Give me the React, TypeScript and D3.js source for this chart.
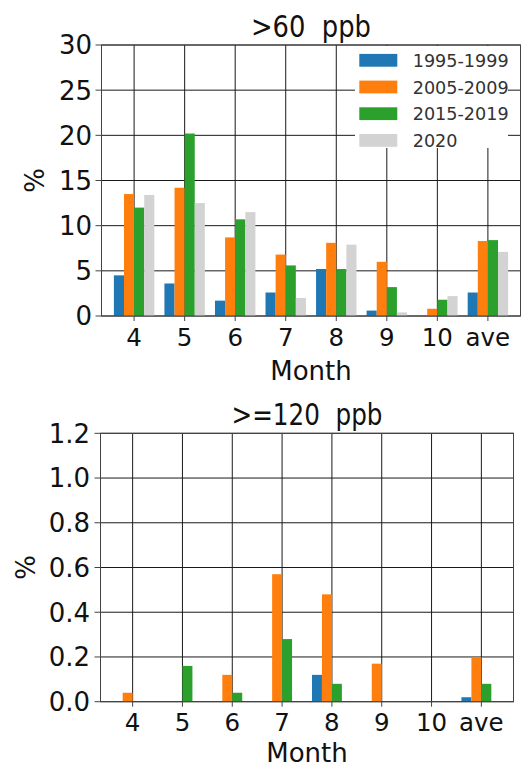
import React from "react";
import * as d3 from "d3";

const months = ["4", "5", "6", "7", "8", "9", "10", "ave"];
const periods = ["1995-1999", "2005-2009", "2015-2019", "2020"];
const periodColors = ["#1f77b4", "#ff7f0e", "#2ca02c", "#d3d3d3"];

// >60 ppb, % of hours
const over60_1995 = [4.5, 3.6, 1.7, 2.6, 5.2, 0.6, 0, 2.6];
const over60_2005 = [13.5, 14.2, 8.7, 6.8, 8.1, 6.0, 0.8, 8.3];
const over60_2015 = [12.0, 20.2, 10.7, 5.6, 5.2, 3.2, 1.8, 8.4];
const over60_2020 = [13.4, 12.5, 11.5, 2.0, 7.9, 0.4, 2.2, 7.1];

// >=120 ppb, % of hours
const over120_1995 = [0, 0, 0, 0, 0.12, 0, 0, 0.02];
const over120_2005 = [0.04, 0, 0.12, 0.57, 0.48, 0.17, 0, 0.2];
const over120_2015 = [0, 0.16, 0.04, 0.28, 0.08, 0, 0, 0.08];
const over120_2020 = [0, 0, 0, 0, 0, 0, 0, 0];

const ticks60 = [0, 5, 10, 15, 20, 25, 30];
const ticks120 = [0, 0.2, 0.4, 0.6, 0.8, 1.0, 1.2];

const FONT = "DejaVu Sans";

function Panel(props) {
  const { title, titleLen, series, yMax, yTicks, fmt, left, right, top, bottom, pctX, tickLabelEnd, monthY, showLegend } = props;

  const x = d3.scalePoint().domain(months).range([left, right]).padding(0.645);
  const step = x.step();
  const xs = d3.scaleBand().domain(periods).range([-step * 0.4, step * 0.4]);
  const y = d3.scaleLinear().domain([0, yMax]).range([bottom, top]);
  const midX = (left + right) / 2;

  return (
    <g>
      {/* grid */}
      {yTicks.map((t) => (
        <line key={"gy" + t} x1={left} x2={right} y1={y(t)} y2={y(t)} stroke="#1a1a1a" strokeWidth={1} />
      ))}
      {months.map((m) => (
        <line key={"gx" + m} x1={x(m)} x2={x(m)} y1={top} y2={bottom} stroke="#1a1a1a" strokeWidth={1} />
      ))}

      {/* bars */}
      {series.map((vals, si) =>
        vals.map((v, i) => (
          <rect
            key={si + "-" + i}
            x={x(months[i]) + xs(periods[si])}
            y={y(v)}
            width={xs.bandwidth()}
            height={bottom - y(v)}
            fill={periodColors[si]}
          />
        ))
      )}

      {showLegend && (
        <g>
          <rect x={355} y={46} width={153} height={102} fill="white" />
          {periods.map((p, i) => {
            const cy = 60.3 + i * 26.7;
            return (
              <g key={p}>
                <rect x={359.3} y={cy - 6.4} width={38} height={12.8} fill={periodColors[i]} />
                <text x={412.7} y={cy + 6.5} fontFamily={FONT} fontSize={17.6} fill="#333">
                  {p}
                </text>
              </g>
            );
          })}
        </g>
      )}

      {/* spines */}
      <rect x={left} y={top} width={right - left} height={bottom - top} fill="none" stroke="#444" strokeWidth={1} />

      {/* y ticks */}
      {yTicks.map((t) => (
        <g key={"ty" + t}>
          <line x1={left - 6} x2={left} y1={y(t)} y2={y(t)} stroke="#444" />
          <text x={tickLabelEnd} y={y(t)} dy="0.36em" textAnchor="end" fontFamily={FONT} fontSize={26} fill="#111">
            {fmt(t)}
          </text>
        </g>
      ))}

      {/* x ticks */}
      {months.map((m) => (
        <g key={"tx" + m}>
          <line x1={x(m)} x2={x(m)} y1={bottom} y2={bottom + 5} stroke="#444" />
          <text x={x(m)} y={bottom + 29.5} textAnchor="middle" fontFamily={FONT} fontSize={24.5} fill="#111">
            {m}
          </text>
        </g>
      ))}

      <text x={midX} y={monthY} textAnchor="middle" fontFamily={FONT} fontSize={26} fill="#111">
        Month
      </text>
      <text
        transform={`translate(${pctX},${(top + bottom) / 2}) rotate(-90)`}
        textAnchor="middle"
        dy="0.36em"
        fontFamily={FONT}
        fontSize={26}
        fill="#111"
      >
        %
      </text>
      <text
        x={midX}
        y={top - 8.5}
        textAnchor="middle"
        fontFamily={FONT}
        fontSize={31}
        fill="#111"
        textLength={titleLen}
        lengthAdjust="spacingAndGlyphs"
        style={{ whiteSpace: "pre" }}
      >
        {title}
      </text>
    </g>
  );
}

export default function App() {
  return (
    <svg width={521} height={767} style={{ position: "absolute", left: 0, top: 0, background: "white" }}>
      <rect width={521} height={767} fill="white" />
      <Panel
        title={">60  ppb"}
        titleLen={120}
        series={[over60_1995, over60_2005, over60_2015, over60_2020]}
        yMax={30}
        yTicks={ticks60}
        fmt={(t) => d3.format("d")(t)}
        left={101.5}
        right={520.5}
        top={45}
        bottom={316}
        pctX={35}
        tickLabelEnd={92}
        monthY={380}
        showLegend={true}
      />
      <Panel
        title={">=120  ppb"}
        titleLen={151}
        series={[over120_1995, over120_2005, over120_2015, over120_2020]}
        yMax={1.2}
        yTicks={ticks120}
        fmt={(t) => d3.format(".1f")(t)}
        left={100.5}
        right={513.5}
        top={433.3}
        bottom={701.7}
        pctX={26}
        tickLabelEnd={90}
        monthY={761.5}
        showLegend={false}
      />
    </svg>
  );
}
